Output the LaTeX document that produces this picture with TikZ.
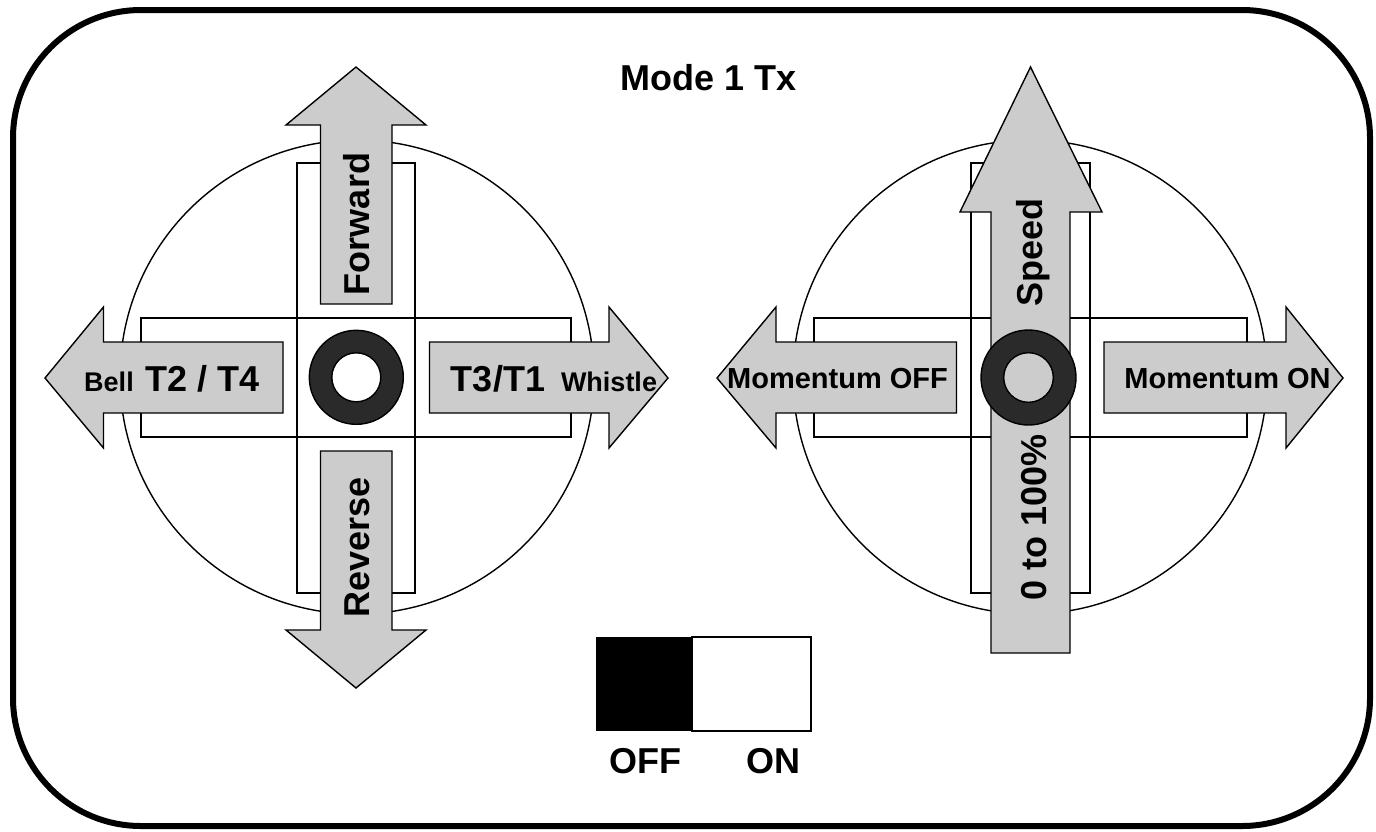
\documentclass[tikz,border=0pt]{standalone}
\usepackage{fontspec}
\setmainfont{Liberation Sans}
\definecolor{gray80}{HTML}{CCCCCC}
\definecolor{ringdark}{HTML}{2A2A2A}
\begin{document}
\begin{tikzpicture}[x=1pt,y=-1pt,
  thinline/.style={line width=1.4pt},
  arrowshape/.style={fill=gray80, draw=black, line width=1.4pt, line join=miter},
  ringshape/.style={fill=ringdark, draw=black, line width=1.4pt, even odd rule},
  big/.style={font=\fontsize{36}{40}\selectfont\bfseries, inner sep=0pt},
  small/.style={font=\fontsize{27}{30}\selectfont\bfseries, inner sep=0pt},
  mom/.style={font=\fontsize{29}{32}\selectfont\bfseries, inner sep=0pt}]
\useasboundingbox (0,0) rectangle (1376,831);
\fill[white] (0,0) rectangle (1376,831);
% outer frame
\draw[line width=6pt, rounded corners=128pt] (13,10) rectangle (1370,826);
\node[big, anchor=base] (title) at (709,90) {Mode 1 Tx};

% ---------- left stick ----------
\draw[thinline] (357,377) circle[radius=237];
\draw[thinline] (297,163) rectangle (415,593);
\draw[thinline] (141,318) rectangle (571,437);
% forward
\draw[arrowshape] (356,67) -- (426,125) -- (392,125) -- (392,304) -- (320.5,304) -- (320.5,125) -- (286,125) -- cycle;
% reverse
\draw[arrowshape] (356,688) -- (426,630) -- (392,630) -- (392,451) -- (320.5,451) -- (320.5,630) -- (286,630) -- cycle;
% left
\draw[arrowshape] (45,378) -- (103.5,307) -- (103.5,342) -- (283,342) -- (283,413) -- (103.5,413) -- (103.5,448) -- cycle;
% right
\draw[arrowshape] (668,378) -- (609,307) -- (609,342) -- (429.5,342) -- (429.5,413) -- (609,413) -- (609,448) -- cycle;
\draw[ringshape] (356.3,377.3) circle[radius=47] circle[radius=24.5];
\node[big, rotate=90] (fwd) at (357,224) {Forward};
\node[big, rotate=90] (rev) at (357,547.5) {Reverse};
\node[small, anchor=base] (bell) at (109,391) {Bell};
\node[big, anchor=base] (t24) at (202.5,391) {T2 / T4};
\node[big, anchor=base] (t31) at (498,391) {T3/T1};
\node[small, anchor=base] (whistle) at (609,391) {Whistle};

% ---------- right stick ----------
\draw[thinline] (1030,377) circle[radius=237];
\draw[thinline] (971,163) rectangle (1090,593);
\draw[thinline] (814,318) rectangle (1247,437);
% momentum off
\draw[arrowshape] (717,378) -- (776,307) -- (776,342) -- (956.5,342) -- (956.5,413) -- (776,413) -- (776,448) -- cycle;
% momentum on
\draw[arrowshape] (1343,378) -- (1286,307) -- (1286,342) -- (1104,342) -- (1104,413) -- (1286,413) -- (1286,448) -- cycle;
% speed
\draw[arrowshape] (1030.5,67) -- (1102,212) -- (1070,212) -- (1070,653) -- (991,653) -- (991,212) -- (960,212) -- cycle;
\draw[ringshape] (1028.5,377.5) circle[radius=47.5] circle[radius=24.8];
\node[big, rotate=90] (speed) at (1033,252.5) {Speed};
\node[big, rotate=90] (pct) at (1034,517.5) {0 to 100\%};
\node[mom, anchor=base] (momoff) at (837.5,388) {Momentum OFF};
\node[mom, anchor=base] (momon) at (1227.5,388) {Momentum ON};

% ---------- switch ----------
\fill[black] (596,637) rectangle (692,731);
\draw[line width=2pt] (692,637) rectangle (811,731);
\node[big, anchor=base] (off) at (645,773) {OFF};
\node[big, anchor=base] (on) at (773,773) {ON};
\end{tikzpicture}
\end{document}
